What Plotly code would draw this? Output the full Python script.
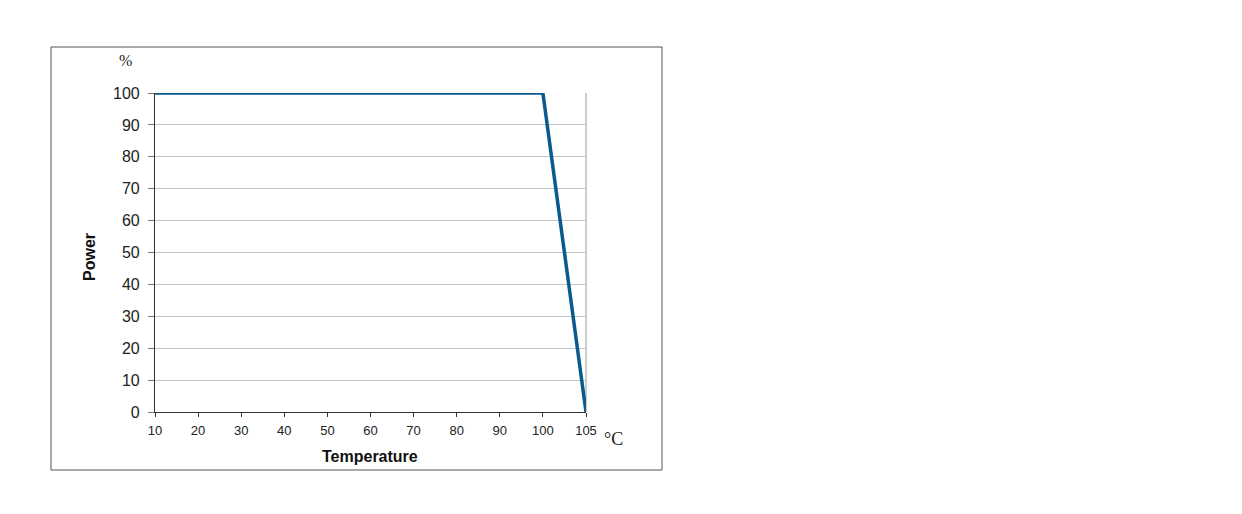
import plotly.graph_objects as go

temperature = ["10", "20", "30", "40", "50", "60", "70", "80", "90", "100", "105"]
power = [100, 100, 100, 100, 100, 100, 100, 100, 100, 100, 0]
y_ticks = [0, 10, 20, 30, 40, 50, 60, 70, 80, 90, 100]

W, H = 1242, 514
OFF = 8  # page body margin
L, R, T, B = 155 - OFF, 586 - OFF, 93 - OFF, 412 - OFF

def px(x):
    return (x - OFF - L) / (R - L)

def py(y):
    return (B - (y - OFF)) / (B - T)

fig = go.Figure()
fig.add_trace(go.Scatter(
    x=temperature, y=power, mode="lines",
    line=dict(color="#0B5A8E", width=3.5),
    cliponaxis=False, showlegend=False, hoverinfo="x+y",
))

def label(text, x, y, size, family, angle=0, color="#222"):
    return dict(text=text, xref="paper", yref="paper", x=px(x), y=py(y),
                xanchor="center", yanchor="middle", textangle=angle,
                showarrow=False, font=dict(family=family, size=size, color=color))

SERIF = "Liberation Serif, Times New Roman, serif"
SANS = "Liberation Sans, Arial, sans-serif"

fig.update_layout(
    width=W, height=H,
    margin=dict(l=L, r=W - R, t=T, b=H - B),
    paper_bgcolor="white", plot_bgcolor="white",
    xaxis=dict(
        type="category", range=[0, len(temperature) - 1],
        showgrid=False, zeroline=False,
        showline=True, linecolor="#333", linewidth=1.2,
        ticks="outside", ticklen=4, tickcolor="#333", tickwidth=1,
        ticklabelstandoff=2,
        tickfont=dict(family=SANS, size=13, color="#222"),
    ),
    yaxis=dict(
        range=[0, 100], tickvals=y_ticks,
        showgrid=True, gridcolor="#C4C4C4", gridwidth=1.2,
        zeroline=False,
        showline=True, linecolor="#333", linewidth=1.2,
        ticks="outside", ticklen=6, tickcolor="#777", tickwidth=1.2,
        ticklabelstandoff=5,
        tickfont=dict(family=SANS, size=16, color="#222"),
    ),
    shapes=[
        dict(type="rect", xref="paper", yref="paper",
             x0=px(51), x1=px(662), y0=py(470), y1=py(47),
             line=dict(color="#555", width=1), fillcolor="rgba(0,0,0,0)", layer="below"),
        dict(type="line", xref="paper", yref="paper",
             x0=1, x1=1, y0=0, y1=1,
             line=dict(color="#AAAAAA", width=1.2), layer="below"),
    ],
    annotations=[
        label("%", 125, 60, 16, SERIF),
        label("°C", 613, 439, 18, SERIF),
        label("<b>Power</b>", 89, 257, 16, SANS, angle=-90, color="#111"),
        label("<b>Temperature</b>", 370, 456, 16, SANS, color="#111"),
    ],
)

fig.write_html("out.html")
